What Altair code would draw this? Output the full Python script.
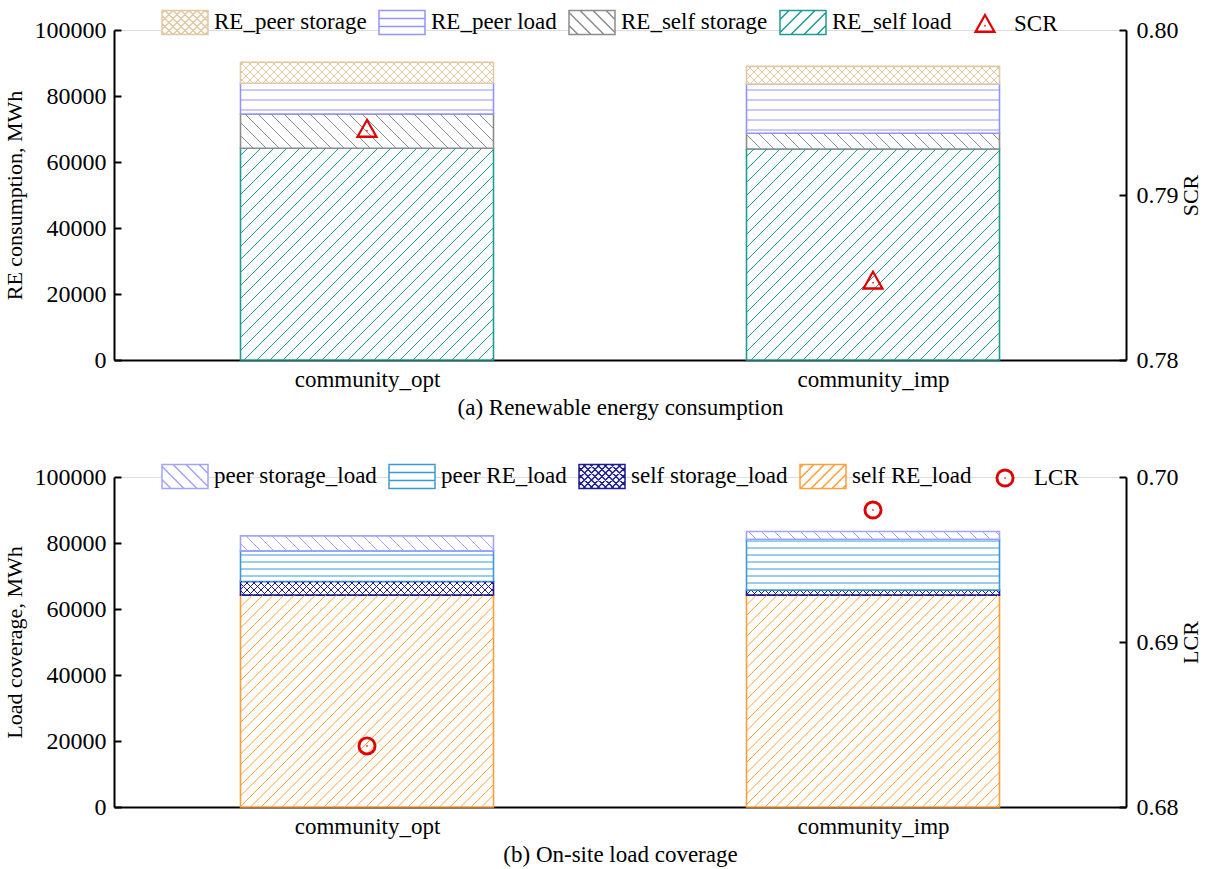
import math
import altair as alt
import pandas as pd

FONT = "Liberation Serif"
FS = 22          # y-axis titles
FS_X = 23        # category labels and panel captions
FS_TICK = 24     # numeric tick labels
FS_LEG = 23      # legend labels
W, H = 1012, 330          # plot area of each panel, px
YMAX = 100000

# ---------------- data ----------------
categories = ["community_opt", "community_imp"]
cat_pos = [0.5, 1.5]      # category centres on the x scale
BAR_HALF = 0.25

# (a) renewable energy consumption, MWh (stack bottom -> top)
re_series = ["RE_peer storage", "RE_peer load", "RE_self storage", "RE_self load"]
re_self_load = [64150, 63950]
re_self_storage = [10400, 4750]
re_peer_load = [9300, 14950]
re_peer_storage = [6360, 5330]
scr = [0.7940, 0.7848]

# (b) on-site load coverage, MWh (stack bottom -> top)
lc_series = ["peer storage_load", "peer RE_load", "self storage_load", "self RE_load"]
lc_self_re = [64200, 64200]
lc_self_storage = [4150, 1500]
lc_peer_re = [9270, 15450]
lc_peer_storage = [4550, 2330]
lcr = [0.6837, 0.6980]

re_colors = ["#E2C9A4", "#9494FF", "#8C8C8C", "#1E9C94", "#E00000"]
lc_colors = ["#A3A3FF", "#3A9AD9", "#1C1C8F", "#FF9F3A", "#E00000"]

# hatch style per series: (kind, spacing in px)
re_hatch = {"RE_peer storage": ("cross", 8), "RE_peer load": ("horiz", 10),
            "RE_self storage": ("down", 13), "RE_self load": ("up", 13)}
lc_hatch = {"peer storage_load": ("down", 13), "peer RE_load": ("horiz", 7),
            "self storage_load": ("cross", 7), "self RE_load": ("up", 10.5)}


# ---------------- geometry helpers ----------------
def px_x(v):
    return v * W / 2


def px_y(v):
    return v * H / YMAX


def diag_segments(X0, X1, Y0, Y1, step, sign):
    """45-degree lines clipped to a box, in px with y pointing up.
    sign=+1 -> '/', sign=-1 -> '\\'."""
    segs = []
    if sign > 0:                      # py = px + c
        cmin, cmax = Y0 - X1, Y1 - X0
    else:                             # py = -px + c
        cmin, cmax = Y0 + X0, Y1 + X1
    c = math.ceil(cmin / step) * step
    while c < cmax:
        if sign > 0:
            a, b = max(X0, Y0 - c), min(X1, Y1 - c)
            if b - a > 0.5:
                segs.append((a, a + c, b, b + c))
        else:
            a, b = max(X0, c - Y1), min(X1, c - Y0)
            if b - a > 0.5:
                segs.append((a, c - a, b, c - b))
        c += step
    return segs


def hatch_rows(x0, x1, y0, y1, series, kind, step):
    X0, X1, Y0, Y1 = px_x(x0), px_x(x1), px_y(y0), px_y(y1)
    segs = []
    if kind in ("up", "cross"):
        segs += diag_segments(X0, X1, Y0, Y1, step, +1)
    if kind in ("down", "cross"):
        segs += diag_segments(X0, X1, Y0, Y1, step, -1)
    if kind == "horiz":
        yy = math.floor(Y0 / step) * step + step
        while yy < Y1 - 1:
            segs.append((X0, yy, X1, yy))
            yy += step
    rows = []
    for a, ya, b, yb in segs:
        rows.append({"x": a * 2 / W, "x2": b * 2 / W,
                     "y": ya * YMAX / H, "y2": yb * YMAX / H, "series": series})
    return rows


def stacked_tables(series_top_down, values_bottom_up, hatch):
    bars, lines = [], []
    order = list(reversed(series_top_down))          # bottom -> top
    for i, c in enumerate(cat_pos):
        base = 0.0
        for name, vals in zip(order, values_bottom_up):
            top = base + vals[i]
            x0, x1 = c - BAR_HALF, c + BAR_HALF
            bars.append({"x": x0, "x2": x1, "y": base, "y2": top, "series": name})
            kind, step = hatch[name]
            lines += hatch_rows(x0, x1, base, top, name, kind, step)
            base = top
    return pd.DataFrame(bars), pd.DataFrame(lines)


# ---------------- legend symbols (SVG paths in unit space) ----------------
SR = 23                      # symbol radius, px  -> 46 px wide swatch slot
BW, BH = 1.0, 12 / SR        # half extents of the swatch box


def box_path():
    return f"M{-BW:.3f},{-BH:.3f}H{BW:.3f}V{BH:.3f}H{-BW:.3f}Z"


def swatch(kind, step_px):
    s = step_px / SR
    p = box_path()
    if kind == "horiz":
        t = BH / 3
        p += f"M{-BW:.3f},{-t:.3f}H{BW:.3f}M{-BW:.3f},{t:.3f}H{BW:.3f}"
        return p
    dirs = []
    if kind in ("up", "cross"):
        dirs.append(+1)
    if kind in ("down", "cross"):
        dirs.append(-1)
    for d in dirs:
        c = math.ceil((-BW - BH) / s) * s
        while c < BW + BH:
            a, b = max(-BW, c - BH), min(BW, c + BH)
            if b - a > 0.02:
                if d > 0:   # '/' on screen: x + y = c (y down)
                    p += f"M{a:.3f},{c - a:.3f}L{b:.3f},{c - b:.3f}"
                else:       # '\' on screen: y = x - c
                    p += f"M{a:.3f},{a - c:.3f}L{b:.3f},{b - c:.3f}"
            c += s
    return p


def triangle(k):
    return f"M0,{-0.42 * k:.3f}L{0.44 * k:.3f},{0.36 * k:.3f}L{-0.44 * k:.3f},{0.36 * k:.3f}Z"


def circle(rad):
    return (f"M{rad:.3f},0A{rad:.3f},{rad:.3f} 0 1,1 {-rad:.3f},0"
            f"A{rad:.3f},{rad:.3f} 0 1,1 {rad:.3f},0Z")


# double outline + centre dot, so the marker reads bold at a thin stroke
TRIANGLE = triangle(1.0) + triangle(0.86) + "M-0.03,0.08L0.03,0.08"
CIRCLE = circle(0.38) + circle(0.32) + "M-0.03,0L0.03,0"


def label_expr():
    return f"datum.value < 1 ? '{categories[0]}' : '{categories[1]}'"


def panel(series, values, hatch, colors, ratio_name, ratio_vals, ratio_domain,
          ratio_marker, y_title, x_title, legend_y):
    bars_df, lines_df = stacked_tables(series, values, hatch)
    pts_df = pd.DataFrame({"x": cat_pos, "ratio": ratio_vals,
                           "series": [ratio_name] * len(cat_pos)})

    domain = series + [ratio_name]
    shapes = [swatch(*hatch[s]) for s in series] + [ratio_marker]
    stroke_scale = alt.Scale(domain=domain, range=colors)
    shape_scale = alt.Scale(domain=domain, range=shapes)
    legend = alt.Legend(orient="none", legendX=47, legendY=legend_y,
                        direction="horizontal", columns=5, title=None,
                        labelFont=FONT, labelFontSize=FS_LEG, labelColor="black",
                        symbolSize=(2 * SR) ** 2, symbolStrokeWidth=1.5,
                        symbolFillColor="white", labelOffset=5,
                        columnPadding=9, labelLimit=0)

    x_enc = alt.X("x:Q", scale=alt.Scale(domain=[0, 2], nice=False, zero=False),
                  axis=alt.Axis(values=cat_pos, labelExpr=label_expr(), ticks=False,
                                grid=False, title=x_title, domainColor="black",
                                domainWidth=2, labelPadding=8, titlePadding=5,
                                labelFont=FONT, labelFontSize=FS_X, labelColor="black",
                                titleFont=FONT, titleFontSize=FS_X,
                                titleFontWeight="normal", titleColor="black"))
    y_enc = alt.Y("y:Q", scale=alt.Scale(domain=[0, YMAX], nice=False),
                  axis=alt.Axis(values=list(range(0, YMAX + 1, 20000)), format="d",
                                grid=False, title=y_title, domainColor="black",
                                domainWidth=2, tickColor="black", tickWidth=2,
                                tickSize=alt.ExprRef(expr="-7"), labelPadding=15,
                                titlePadding=8,
                                labelFont=FONT, labelFontSize=FS_TICK,
                                labelColor="black",
                                titleFont=FONT, titleFontSize=FS,
                                titleFontWeight="normal", titleColor="black"))

    bars = alt.Chart(bars_df).mark_rect(fill="white", strokeWidth=1.6).encode(
        x=x_enc, x2="x2:Q", y=y_enc, y2="y2:Q",
        stroke=alt.Stroke("series:N", scale=stroke_scale, legend=legend))
    lines = alt.Chart(lines_df).mark_rule(strokeWidth=1).encode(
        x=x_enc, x2="x2:Q", y=y_enc, y2="y2:Q",
        stroke=alt.Stroke("series:N", scale=stroke_scale, legend=legend))
    left = alt.layer(bars, lines)

    r_enc = alt.Y("ratio:Q",
                  scale=alt.Scale(domain=ratio_domain, nice=False, zero=False),
                  axis=alt.Axis(orient="right",
                                values=[ratio_domain[0], sum(ratio_domain) / 2,
                                        ratio_domain[1]],
                                format=".2f", grid=False, title=ratio_name,
                                titleAngle=270, domainColor="black", domainWidth=2,
                                tickColor="black", tickWidth=2,
                                tickSize=alt.ExprRef(expr="-7"), labelPadding=17,
                                titlePadding=24,
                                labelFont=FONT, labelFontSize=FS_TICK,
                                labelColor="black",
                                titleFont=FONT, titleFontSize=FS,
                                titleFontWeight="normal", titleColor="black"))
    pts = alt.Chart(pts_df).mark_point(filled=False, strokeWidth=1.5,
                                       size=(2 * SR) ** 2, opacity=1).encode(
        x=x_enc, y=r_enc,
        stroke=alt.Stroke("series:N", scale=stroke_scale, legend=legend),
        shape=alt.Shape("series:N", scale=shape_scale, legend=legend))

    return alt.layer(left, pts).resolve_scale(y="independent").properties(
        width=W, height=H)


top = panel(re_series,
            [re_self_load, re_self_storage, re_peer_load, re_peer_storage],
            re_hatch, re_colors, "SCR", scr, [0.78, 0.80], TRIANGLE,
            "RE consumption, MWh", "(a) Renewable energy consumption", -32)
bottom = panel(lc_series,
               [lc_self_re, lc_self_storage, lc_peer_re, lc_peer_storage],
               lc_hatch, lc_colors, "LCR", lcr, [0.68, 0.70], CIRCLE,
               "Load coverage, MWh", "(b) On-site load coverage", -25)

chart = alt.vconcat(top, bottom, spacing=31).resolve_scale(
    x="independent", y="independent", stroke="independent", shape="independent"
).properties(padding={"left": 2, "top": -3, "right": 0, "bottom": 0}
).configure_view(stroke=None).configure(background="white")

chart.save("out.html", embed_options={"renderer": "svg", "actions": False})
